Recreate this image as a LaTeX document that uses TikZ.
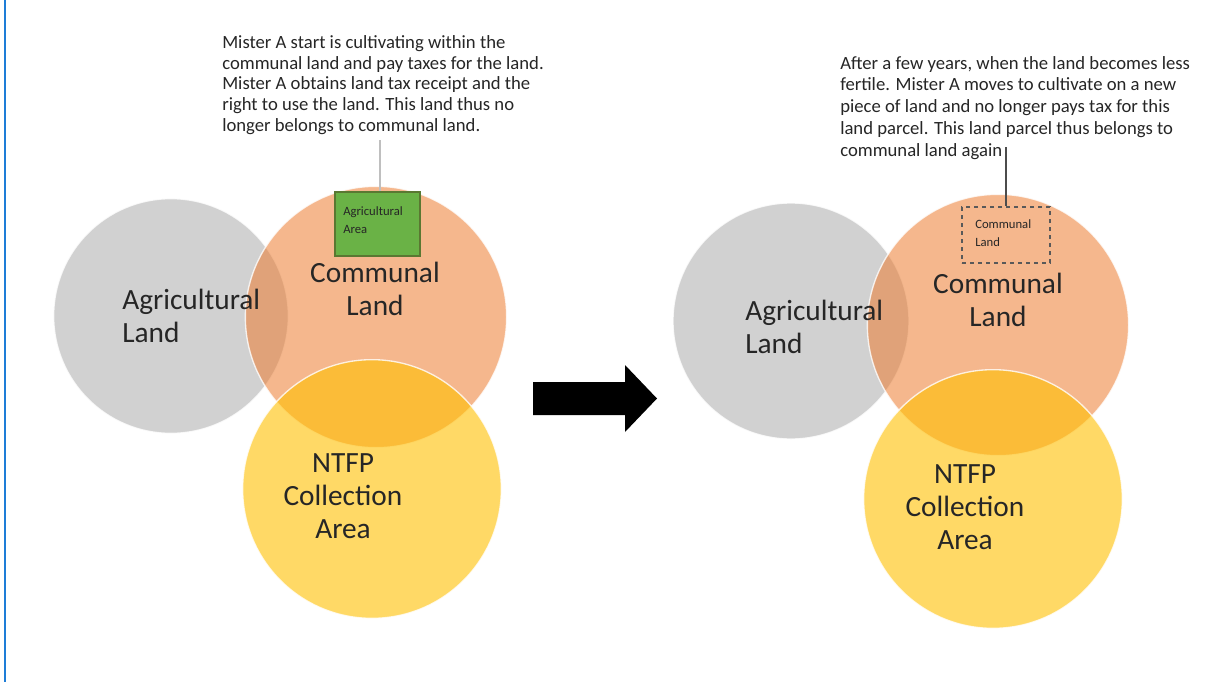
\documentclass[tikz,border=0pt]{standalone}
\usepackage{fontspec}
\setmainfont{Carlito}
\definecolor{cgray}{RGB}{165,165,165}
\definecolor{corange}{RGB}{237,125,49}
\definecolor{cyellow}{RGB}{255,192,0}
\definecolor{cgreen}{RGB}{106,178,70}
\definecolor{cgreenb}{RGB}{90,120,50}
\definecolor{cblue}{RGB}{30,125,215}
\definecolor{ctext}{RGB}{38,38,38}
\tikzset{
  venn/.style={circle, inner sep=0pt, draw=white, draw opacity=0.8, line width=1pt},
  biglbl/.style={inner sep=0pt, text=ctext, font=\fontsize{22}{24.5}\selectfont},
  note/.style={inner sep=0pt, text=ctext, align=left, font=\fontsize{14}{15.4}\selectfont},
  boxlbl/.style={inner sep=0pt, text=ctext, align=left, font=\fontsize{9.5}{12.8}\selectfont},
}
\begin{document}
\begin{tikzpicture}[x=0.75pt,y=-0.75pt]
\fill[white] (0,0) rectangle (1215,682);
\useasboundingbox (0,0) rectangle (1215,682);
% blue rule
\coordinate (bt) at (5,0);
\coordinate (bb) at (5,682);
\draw[cblue, line width=1.6pt] (bt) -- (bb);

% ---------- left diagram ----------
\node[venn, fill=cgray, fill opacity=0.5, minimum size=176pt] (ag1) at (171,316) {};
\node[venn, fill=corange, fill opacity=0.55, minimum size=196pt] (cl1) at (376,317) {};
\node[venn, fill=cyellow, fill opacity=0.6, minimum size=194pt] (nt1) at (372,489) {};

\node[biglbl, align=left, anchor=base west] (agt1) at (122,342) {Agricultural\\Land};
\node[biglbl, align=center, anchor=base] (clt1) at (375,315) {Communal\\Land};
\node[biglbl, align=center, anchor=base] (ntt1) at (343,538) {NTFP\\Collection\\Area};

\node[fill=cgreen, draw=cgreenb, line width=0.8pt, minimum width=63.75pt, minimum height=48pt, inner sep=0pt] (gbox) at (377.5,224) {};
\node[boxlbl, anchor=base west] (gboxt) at (343,233) {Agricultural\\Area};

\node[note, anchor=base west] (note1) at (222,131) {Mister A start is cultivating within the\\communal land and pay taxes for the land.\\Mister A obtains land tax receipt and the\\right to use the land. This land thus no\\longer belongs to communal land.};
\coordinate (lp) at (380,140);
\draw[black!25, line width=0.8pt] (lp) -- (lp |- gbox.north);

% ---------- arrow ----------
\fill[black] (533,382) -- (625,382) -- (625,365) -- (657,398.5) -- (625,432) -- (625,415) -- (533,415) -- cycle;

% ---------- right diagram ----------
\node[venn, fill=cgray, fill opacity=0.5, minimum size=177pt] (ag2) at (791,321) {};
\node[venn, fill=corange, fill opacity=0.55, minimum size=196pt] (cl2) at (998,325) {};
\node[venn, fill=cyellow, fill opacity=0.6, minimum size=194pt] (nt2) at (993,499) {};

\node[biglbl, align=left, anchor=base west] (agt2) at (745,353) {Agricultural\\Land};
\node[biglbl, align=center, anchor=base] (clt2) at (998,326) {Communal\\Land};
\node[biglbl, align=center, anchor=base] (ntt2) at (965,549) {NTFP\\Collection\\Area};

\node[draw=black!65, dashed, line width=0.8pt, minimum width=66pt, minimum height=42pt, inner sep=0pt] (dbox) at (1006,235) {};
\node[boxlbl, anchor=base west] (dboxt) at (975,246) {Communal\\Land};

\node[note, anchor=base west, font=\fontsize{14}{16.3}\selectfont] (note2) at (840,156) {After a few years, when the land becomes less\\fertile. Mister A moves to cultivate on a new\\piece of land and no longer pays tax for this\\land parcel. This land parcel thus belongs to\\communal land again};
\coordinate (rp) at (1006,147);
\draw[black!70, line width=0.8pt] (rp) -- (dbox.north);
\end{tikzpicture}
\end{document}
